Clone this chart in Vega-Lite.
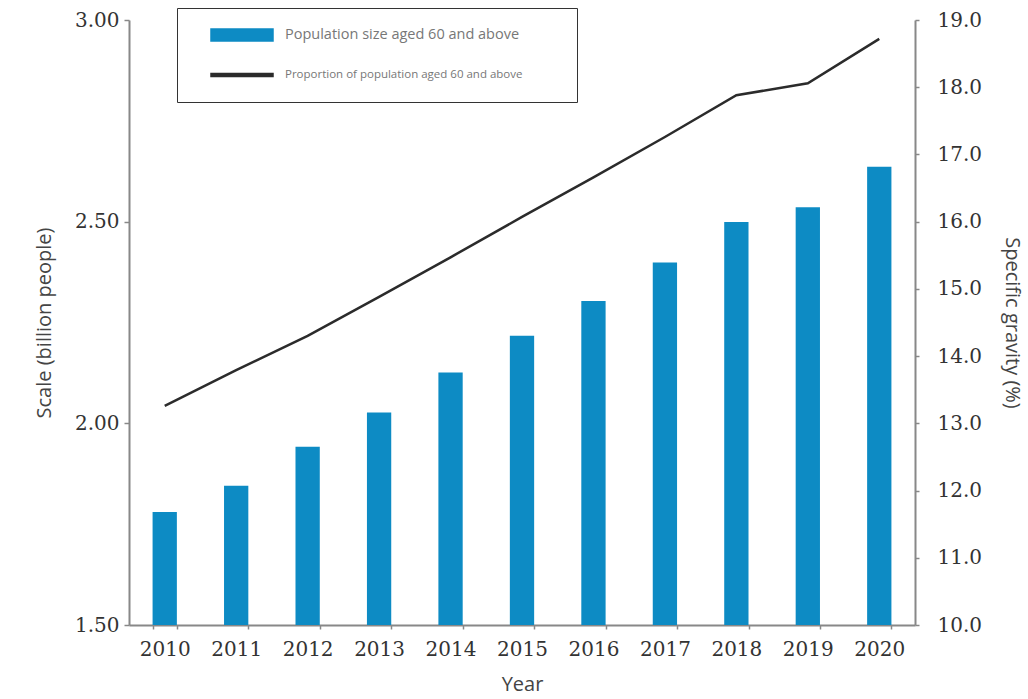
{
  "$schema": "https://vega.github.io/schema/vega-lite/v6.json",
  "width": 786,
  "height": 605,
  "autosize": "none",
  "padding": {"left": 129, "top": 20, "right": 113, "bottom": 74},
  "background": "white",
  "config": {"view": {"stroke": null}, "font": "Open Sans"},
  "data": {
    "values": [
      {"year": "2010", "population": 1.78, "proportion": 13.26},
      {"year": "2011", "population": 1.845, "proportion": 13.79},
      {"year": "2012", "population": 1.942, "proportion": 14.3},
      {"year": "2013", "population": 2.027, "proportion": 14.88},
      {"year": "2014", "population": 2.126, "proportion": 15.47},
      {"year": "2015", "population": 2.217, "proportion": 16.07},
      {"year": "2016", "population": 2.303, "proportion": 16.66},
      {"year": "2017", "population": 2.399, "proportion": 17.26},
      {"year": "2018", "population": 2.499, "proportion": 17.88},
      {"year": "2019", "population": 2.536, "proportion": 18.06},
      {"year": "2020", "population": 2.636, "proportion": 18.72}
    ]
  },
  "encoding": {
    "x": {
      "field": "year",
      "type": "ordinal",
      "scale": {"paddingInner": 0.66, "paddingOuter": 0.33},
      "axis": {
        "title": "Year",
        "labelAngle": 0,
        "labelFont": "DejaVu Serif",
        "labelFontSize": 20,
        "labelColor": "#333333",
        "labelPadding": 10,
        "titleFont": "Open Sans",
        "titleFontSize": 20,
        "titleFontWeight": "normal",
        "titleColor": "#444444",
        "titlePadding": 15,
        "domainColor": "#888888",
        "domainWidth": 2,
        "tickColor": "#888888",
        "tickSize": 4,
        "tickWidth": 1.5,
        "tickBand": "extent"
      }
    }
  },
  "layer": [
    {
      "mark": {"type": "bar", "color": "#0d8bc4"},
      "encoding": {
        "y": {
          "field": "population",
          "type": "quantitative",
          "scale": {"domain": [1.5, 3.0], "zero": false, "nice": false},
          "axis": {
            "title": "Scale (billion people)",
            "values": [1.5, 2.0, 2.5, 3.0],
            "format": ".2f",
            "grid": false,
            "labelFont": "DejaVu Serif",
            "labelFontSize": 20,
            "labelColor": "#333333",
            "labelPadding": 5,
            "titleFont": "Open Sans",
            "titleFontSize": 20,
            "titleFontWeight": "normal",
            "titleColor": "#444444",
            "titlePadding": 20,
            "domainColor": "#888888",
            "domainWidth": 2,
            "tickColor": "#888888",
            "tickSize": 5,
            "tickWidth": 1.5
          }
        },
        "y2": {"datum": 1.5},
        "color": {
          "datum": "Population size aged 60 and above",
          "type": "nominal",
          "scale": {
            "domain": ["Population size aged 60 and above", "Proportion of population aged 60 and above"],
            "range": ["#0d8bc4", "#2b2b2b"]
          },
          "legend": {
            "title": null,
            "orient": "none",
            "legendX": 48,
            "legendY": -12,
            "padding": 21,
            "strokeColor": "#333333",
            "fillColor": "white",
            "rowPadding": 25,
            "symbolSize": 100,
            "labelOffset": 75,
            "labelFont": "Open Sans",
            "labelColor": "#777777",
            "labelLimit": 400,
            "encode": {
              "symbols": {
                "update": {
                  "shape": {"signal": "datum.value === 'Population size aged 60 and above' ? 'M1.4,-1.2H13.8V1.2H1.4Z M69.8,0L69.8,0' : 'M1.4,-0.3H13.8V0.3H1.4Z'"},
                  "fill": {"signal": "datum.value === 'Population size aged 60 and above' ? '#0d8bc4' : '#444444'"},
                  "stroke": {"value": "transparent"},
                  "opacity": {"value": 1},
                  "fillOpacity": {"value": 1}
                }
              },
              "labels": {
                "update": {
                  "fontSize": {"signal": "datum.value === 'Population size aged 60 and above' ? 14.5 : 11.5"}
                }
              }
            }
          }
        }
      }
    },
    {
      "mark": {"type": "line", "strokeWidth": 2.5},
      "encoding": {
        "y": {
          "field": "proportion",
          "type": "quantitative",
          "scale": {"domain": [10, 19], "zero": false, "nice": false},
          "axis": {
            "orient": "right",
            "title": "Specific gravity (%)",
            "values": [10, 11, 12, 13, 14, 15, 16, 17, 18, 19],
            "format": ".1f",
            "grid": false,
            "labelFont": "DejaVu Serif",
            "labelFontSize": 20,
            "labelColor": "#333333",
            "labelPadding": 18,
            "titleFont": "Open Sans",
            "titleFontSize": 20,
            "titleFontWeight": "normal",
            "titleColor": "#444444",
            "titlePadding": 20,
            "domainColor": "#888888",
            "domainWidth": 2,
            "tickColor": "#888888",
            "tickSize": 4,
            "tickWidth": 1.5
          }
        },
        "color": {"datum": "Proportion of population aged 60 and above", "type": "nominal"}
      }
    }
  ],
  "resolve": {"scale": {"y": "independent"}}
}
